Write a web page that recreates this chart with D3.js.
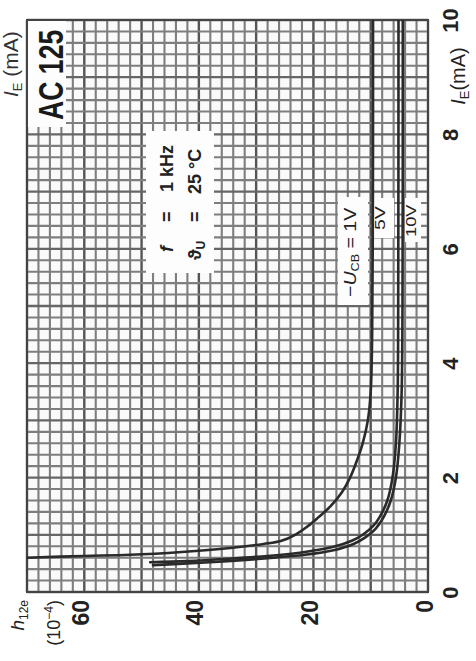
<!DOCTYPE html>
<html><head><meta charset="utf-8">
<script src="https://cdn.jsdelivr.net/npm/d3@7"></script>
<style>body{margin:0;background:#fff}svg{display:block}</style>
</head><body><svg id="c" width="476" height="661"></svg>
<script>
// ---- data ----
const hTickValues = [0, 20, 40, 60];
const ieTickValues = [0, 2, 4, 6, 8, 10];
const ie1V = [0.60,0.63,0.65,0.70,0.77,0.84,0.89,1.0,1.15,1.3,1.5,1.75,2.0,2.3,2.6,3.0,3.5,4.5,6,8,10];
const h1V  = [70,60,52,43,34.5,28.7,25.7,23.2,21.0,19.2,17.0,15.0,13.6,12.4,11.4,10.5,10.0,9.75,9.65,9.6,9.6];
const ie5V = [0.52,0.54,0.58,0.63,0.70,0.79,0.90,1.0,1.15,1.3,1.6,2.0,2.6,3.5,5,10];
const h5V  = [48.5,42,35,28,21.5,16.5,13.2,11.4,9.6,8.5,7.1,6.2,5.6,5.3,5.2,5.15];
const ie10V = [0.47,0.50,0.54,0.59,0.65,0.73,0.84,0.95,1.1,1.3,1.6,2.0,2.6,3.5,5,10];
const h10V  = [48,42,35,28,21.5,16.5,13,11,9.2,7.8,6.5,5.6,5.0,4.6,4.45,4.4];

const svg = d3.select("#c");
const x = d3.scaleLinear().domain([0, 70]).range([428, 27]);
const y = d3.scaleLinear().domain([0, 10]).range([592, 20]);
const FONT = "'Liberation Sans', Arial, Helvetica, sans-serif";

// grid
const grid = svg.append("g");
grid.append("rect").attr("x", x(70)).attr("y", y(10)).attr("width", x(0)-x(70)).attr("height", y(0)-y(10)).attr("fill", "#fafafa");
d3.range(0, 70.01, 2).forEach(v => {
  grid.append("line").attr("x1", x(v)).attr("x2", x(v)).attr("y1", y(0)).attr("y2", y(10))
    .attr("stroke", v % 10 === 0 ? "#555" : "#7e7e7e").attr("stroke-width", v % 10 === 0 ? 2.4 : 2.1);
});
d3.range(0, 51).map(k => k / 5).forEach(v => {
  const major = Math.abs(v - Math.round(v)) < 1e-6;
  grid.append("line").attr("y1", y(v)).attr("y2", y(v)).attr("x1", x(0)).attr("x2", x(70))
    .attr("stroke", major ? "#666" : "#7e7e7e").attr("stroke-width", major ? 2.3 : 2.1);
});
grid.append("rect").attr("x", x(70)).attr("y", y(10)).attr("width", x(0)-x(70)).attr("height", y(0)-y(10))
  .attr("fill", "none").attr("stroke", "#444").attr("stroke-width", 2);

// white label boxes
const boxes = [[28,21,38,106],[146,131,68,142],[338,197,30,108],[373,198,21,40],[405,198,16,44]];
boxes.forEach(b => svg.append("rect").attr("x", b[0]).attr("y", b[1]).attr("width", b[2]).attr("height", b[3]).attr("fill", "#fdfdfd"));

// curves
svg.append("clipPath").attr("id", "clp").append("rect").attr("x", x(70)).attr("y", y(10)).attr("width", x(0)-x(70)).attr("height", y(0)-y(10));
const line = d3.line().x(d => x(d[1])).y(d => y(d[0])).curve(d3.curveCatmullRom.alpha(0.5));
[[ie1V, h1V], [ie5V, h5V], [ie10V, h10V]].forEach(([ie, h]) => {
  svg.append("path").attr("clip-path", "url(#clp)").attr("d", line(ie.map((v, i) => [v, h[i]])))
    .attr("fill", "none").attr("stroke", "#2a2a2a").attr("stroke-width", 2.6).attr("stroke-linecap", "round");
});

// axes
const ax = svg.append("g").attr("transform", `translate(${x(0)},0)`)
  .call(d3.axisRight(y).tickValues(ieTickValues).tickSize(0).tickFormat(d3.format("d")));
ax.select(".domain").remove();
ax.selectAll("text").attr("transform", "rotate(-90)").attr("x", 0).attr("y", 30).attr("dy", 0)
  .attr("text-anchor", "middle").attr("font-size", 22).attr("font-weight", "bold").attr("font-family", FONT).attr("fill", "#222");
const bx = svg.append("g").attr("transform", `translate(0,${y(0)})`)
  .call(d3.axisBottom(x).tickValues(hTickValues).tickSize(0).tickFormat(d3.format("d")));
bx.select(".domain").remove();
bx.selectAll("text").attr("transform", "rotate(-90)").attr("x", -8).attr("y", 4).attr("dy", 0)
  .attr("text-anchor", "end").attr("font-size", 23).attr("font-weight", "bold").attr("font-family", FONT).attr("fill", "#222");

function rtext(cx, cy, anchor, sx) {
  return svg.append("text").attr("transform", `translate(${cx},${cy}) rotate(-90)` + (sx ? ` scale(${sx},1)` : ""))
    .attr("text-anchor", anchor).attr("font-family", FONT).attr("fill", "#222");
}
// I_E axis title
let t = rtext(465, 76, "middle").attr("font-size", 20);
t.append("tspan").attr("font-style", "italic").text("I");
t.append("tspan").attr("font-size", 13).attr("dy", 4).text("E");
t.append("tspan").attr("dy", -4).text("(mA)");
// title from neighbouring chart (top-left)
t = rtext(18, 97, "start").attr("font-size", 21).attr("fill", "#333");
t.append("tspan").attr("font-style", "italic").text("I");
t.append("tspan").attr("font-size", 13).attr("dy", 4).text("E");
t.append("tspan").attr("dy", -4).text(" (mA)");
// h12e title
t = rtext(24, 600, "end").attr("font-size", 19);
t.append("tspan").attr("font-style", "italic").text("h");
t.append("tspan").attr("font-size", 12).attr("dy", 4).text("12e");
t = rtext(60, 600, "end").attr("font-size", 18);
t.append("tspan").text("(10");
t.append("tspan").attr("font-size", 12).attr("dy", -7).text("−4");
t.append("tspan").attr("dy", 7).text(")");

// AC 125
rtext(63, 120, "start", 0.74).attr("font-size", 36).attr("font-weight", "bold").attr("fill", "#1a1a1a").text("AC 125");

// conditions
t = rtext(173, 260, "start").attr("font-size", 18).attr("font-weight", "bold");
t.append("tspan").attr("x", 8).attr("font-style", "italic").text("f");
t.append("tspan").attr("x", 38).text("=");
t.append("tspan").attr("x", 68).text("1 kHz");
t = rtext(201, 260, "start").attr("font-size", 18).attr("font-weight", "bold");
t.append("tspan").attr("x", 0).text("ϑ");
t.append("tspan").attr("font-size", 12).attr("dy", 4).text("U");
t.append("tspan").attr("x", 38).attr("dy", -4).text("=");
t.append("tspan").attr("x", 66).text("25 °C");

// curve labels
t = rtext(356, 297, "start", 1.15).attr("font-size", 17);
t.append("tspan").text("−");
t.append("tspan").attr("font-style", "italic").text("U");
t.append("tspan").attr("font-size", 11).attr("dy", 3).text("CB");
t.append("tspan").attr("dy", -3).text(" = 1V");
rtext(385, 230, "start", 1.3).attr("font-size", 15).text("5V");
rtext(416, 237, "start", 1.22).attr("font-size", 15).text("10V");
</script></body></html>
